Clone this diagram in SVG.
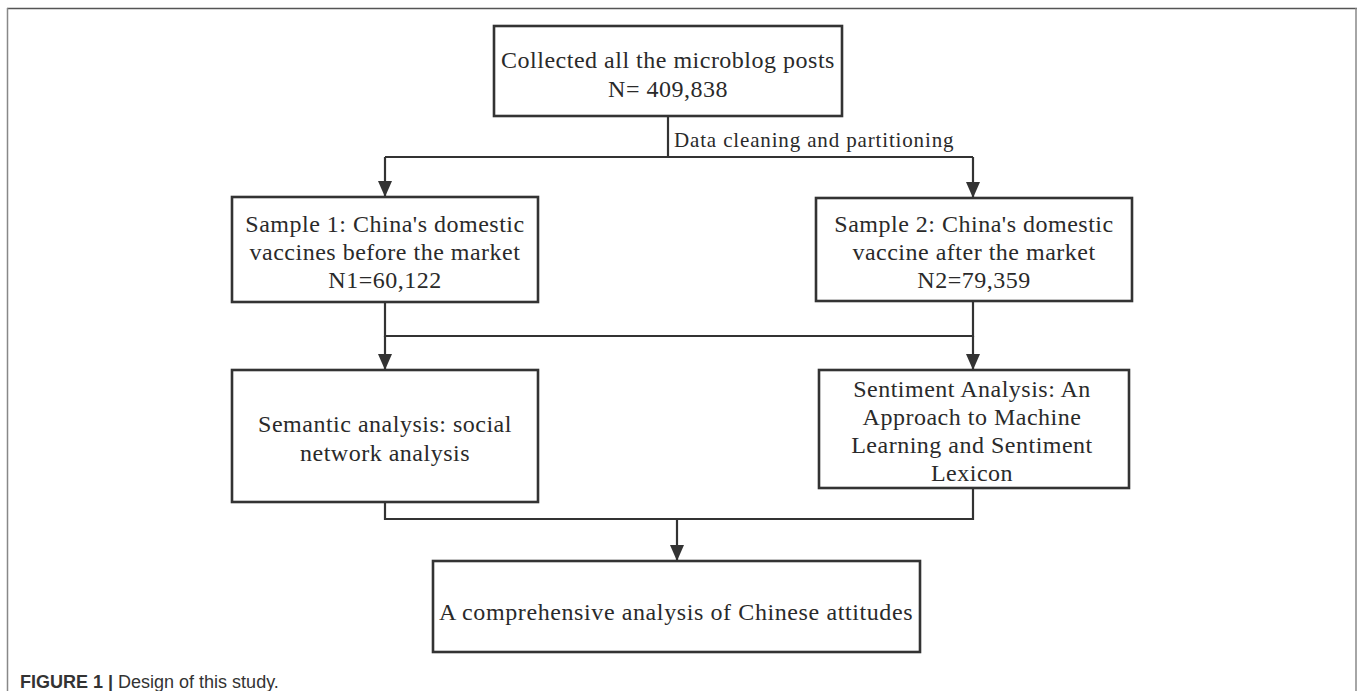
<svg xmlns="http://www.w3.org/2000/svg" width="1358" height="691" viewBox="0 0 1358 691">
<style>
.box{fill:#fff;stroke:#333;stroke-width:2.6}
.t{font-family:"Liberation Serif","Times New Roman",serif;font-size:24px;fill:#2a2a2a;text-anchor:middle;letter-spacing:0.5px}
.ln{fill:none;stroke:#333;stroke-width:2.2}
.cap{font-family:"Liberation Sans",Arial,sans-serif;font-size:18px;fill:#333}
</style>
<defs>
<marker id="ah" viewBox="0 0 16 14" refX="16" refY="7" markerWidth="16" markerHeight="14" markerUnits="userSpaceOnUse" orient="auto">
<path d="M0,0 L16,7 L0,14 Z" fill="#333"/>
</marker>
</defs>
<rect width="1358" height="691" fill="#fff"/>
<g id="frame">
<line x1="7" y1="8.5" x2="1357" y2="8.5" stroke="#555" stroke-width="1.5"/>
<line x1="7.5" y1="8" x2="7.5" y2="691" stroke="#888" stroke-width="1.5"/>
<line x1="1356" y1="8" x2="1356" y2="691" stroke="#888" stroke-width="1.5"/>
</g>
<g id="connectors">
<polyline class="ln" points="668,116 668,157"/>
<line class="ln" x1="385" y1="157" x2="973" y2="157"/>
<line class="ln" x1="385" y1="157" x2="385" y2="197" marker-end="url(#ah)"/>
<line class="ln" x1="973" y1="157" x2="973" y2="198" marker-end="url(#ah)"/>
<polyline class="ln" points="385,302 385,336 973,336 973,301"/>
<line class="ln" x1="385" y1="336" x2="385" y2="370" marker-end="url(#ah)"/>
<line class="ln" x1="973" y1="336" x2="973" y2="370" marker-end="url(#ah)"/>
<polyline class="ln" points="385,502 385,519 973,519 973,488"/>
<line class="ln" x1="677" y1="519" x2="677" y2="561" marker-end="url(#ah)"/>
<text x="674" y="147" class="t" style="text-anchor:start;font-size:21px;letter-spacing:0.85px">Data cleaning and partitioning</text>
</g>
<g id="n-collected">
<rect class="box" x="494" y="26" width="348" height="90"/>
<text class="t" x="668" y="68">Collected all the microblog posts</text>
<text class="t" x="668" y="97">N= 409,838</text>
</g>
<g id="n-sample1">
<rect class="box" x="232" y="197" width="306" height="105"/>
<text class="t" x="385" y="232">Sample 1: China's domestic</text>
<text class="t" x="385" y="260">vaccines before the market</text>
<text class="t" x="385" y="288">N1=60,122</text>
</g>
<g id="n-sample2">
<rect class="box" x="816" y="198" width="316" height="103"/>
<text class="t" x="974" y="232">Sample 2: China's domestic</text>
<text class="t" x="974" y="260">vaccine after the market</text>
<text class="t" x="974" y="288">N2=79,359</text>
</g>
<g id="n-semantic">
<rect class="box" x="232" y="370" width="306" height="132"/>
<text class="t" x="385" y="432">Semantic analysis: social</text>
<text class="t" x="385" y="461">network analysis</text>
</g>
<g id="n-sentiment">
<rect class="box" x="819" y="370" width="310" height="118"/>
<text class="t" x="972" y="397">Sentiment Analysis: An</text>
<text class="t" x="972" y="425">Approach to Machine</text>
<text class="t" x="972" y="453">Learning and Sentiment</text>
<text class="t" x="972" y="481">Lexicon</text>
</g>
<g id="n-comprehensive">
<rect class="box" x="433" y="561" width="487" height="91"/>
<text class="t" x="676" y="620" style="letter-spacing:0.6px">A comprehensive analysis of Chinese attitudes</text>
</g>
<text class="cap" x="20" y="688"><tspan font-weight="bold">FIGURE 1 |</tspan> Design of this study.</text>
</svg>
